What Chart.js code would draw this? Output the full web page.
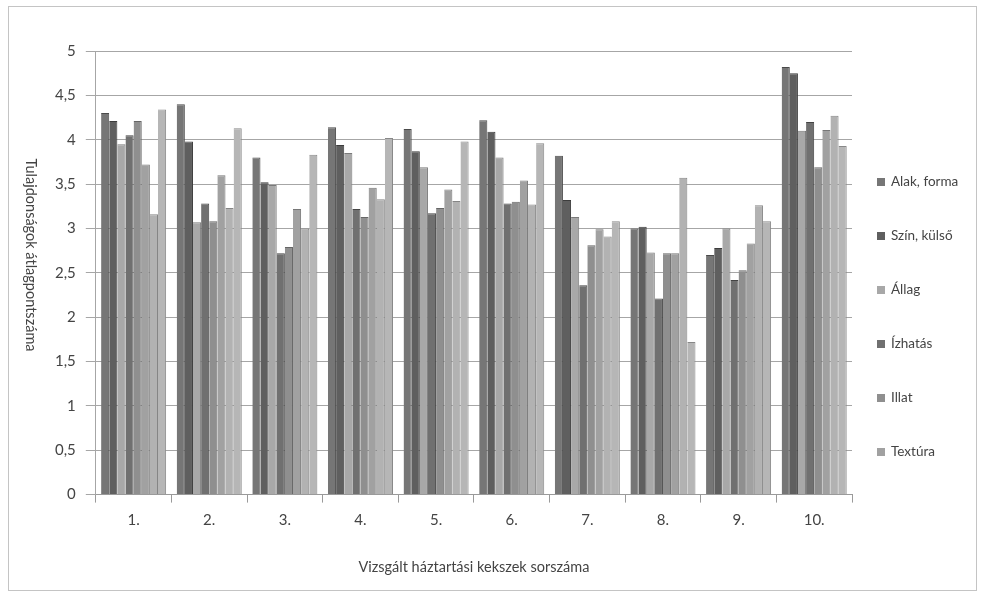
<!DOCTYPE html>
<html lang="hu">
<head>
<meta charset="UTF-8">
<title>Háztartási kekszek</title>
<script src="https://cdn.jsdelivr.net/npm/chart.js"></script>
<style>
  html, body { margin: 0; padding: 0; background: #fff; }
  #wrap { width: 984px; height: 598px; }
</style>
</head>
<body>
<div id="wrap"><canvas id="chart" width="984" height="598"></canvas></div>
<script>
// kategóriák (kekszek sorszáma)
const categories = ['1.', '2.', '3.', '4.', '5.', '6.', '7.', '8.', '9.', '10.'];
const seriesNames = ['Alak, forma', 'Szín, külső', 'Állag', 'Ízhatás', 'Illat', 'Textúra', 'Sorozat 7', 'Sorozat 8'];

// átlagpontszámok sorozatonként
const alakForma = [4.30, 4.40, 3.80, 4.14, 4.12, 4.22, 3.82, 3.00, 2.70, 4.82];
const szinKulso = [4.21, 3.98, 3.52, 3.94, 3.87, 4.09, 3.32, 3.02, 2.78, 4.75];
const allag     = [3.95, 3.07, 3.49, 3.85, 3.69, 3.80, 3.13, 2.73, 3.00, 4.10];
const izhatas   = [4.05, 3.28, 2.72, 3.22, 3.17, 3.28, 2.36, 2.21, 2.42, 4.20];
const illat     = [4.21, 3.08, 2.79, 3.13, 3.23, 3.30, 2.81, 2.72, 2.53, 3.69];
const textura   = [3.72, 3.60, 3.22, 3.46, 3.44, 3.54, 2.99, 2.72, 2.83, 4.11];
const sorozat7  = [3.16, 3.23, 3.00, 3.33, 3.31, 3.27, 2.91, 3.57, 3.26, 4.27];
const sorozat8  = [4.34, 4.13, 3.83, 4.02, 3.98, 3.96, 3.08, 1.72, 3.08, 3.93];

const yTicks = [0, 0.5, 1, 1.5, 2, 2.5, 3, 3.5, 4, 4.5, 5];

const seriesValues = [alakForma, szinKulso, allag, izhatas, illat, textura, sorozat7, sorozat8];
const fills = ['#767676', '#5f5f5f', '#a8a8a8', '#707070', '#8f8f8f', '#a1a1a1', '#b2b2b2', '#b6b6b6'];
const edges = ['#4a4a4a', '#3c3c3c', '#7a7a7a', '#444444', '#666666', '#777777', '#858585', '#888888'];
const legendCount = 6;

const FONT = 'Lato, "Open Sans", sans-serif';

const datasets = seriesValues.map((vals, i) => ({
  label: seriesNames[i],
  data: vals,
  backgroundColor: fills[i],
  borderColor: edges[i],
  borderWidth: { top: 1, right: 1, left: 0, bottom: 0 },
  borderSkipped: false,
  categoryPercentage: 0.86,
  barPercentage: 1.0
}));

// keret, függőleges tengelycím és jelmagyarázat
const extras = {
  id: 'extras',
  beforeDraw(chart) {
    const c = chart.ctx;
    c.save();
    c.fillStyle = '#fff';
    c.fillRect(0, 0, chart.width, chart.height);
    c.strokeStyle = '#c4c4c4';
    c.lineWidth = 1;
    c.strokeRect(8.5, 6.5, 968, 584);
    c.restore();
  },
  afterDraw(chart) {
    const c = chart.ctx;
    c.save();
    // y tengely címe, felülről lefelé olvasva
    c.translate(31, 255);
    c.rotate(Math.PI / 2);
    c.font = '14.5px ' + FONT;
    c.fillStyle = '#444';
    c.textAlign = 'center';
    c.textBaseline = 'middle';
    c.fillText('Tulajdonságok átlagpontszáma', 0, 0);
    c.restore();

    c.save();
    c.font = '13.5px ' + FONT;
    c.textBaseline = 'middle';
    c.textAlign = 'left';
    for (let i = 0; i < legendCount; i++) {
      const ds = chart.data.datasets[i];
      const y = 182 + i * 54;
      c.fillStyle = ds.backgroundColor;
      c.fillRect(877, y - 4, 8, 8);
      c.fillStyle = '#444';
      c.fillText(ds.label, 891, y);
    }
    c.restore();
  }
};

new Chart(document.getElementById('chart'), {
  type: 'bar',
  data: { labels: categories, datasets: datasets },
  options: {
    responsive: false,
    animation: false,
    layout: { padding: { left: 45, right: 132, top: 51, bottom: 22 } },
    plugins: {
      legend: { display: false },
      tooltip: { enabled: false }
    },
    scales: {
      x: {
        grid: {
          offset: true,
          drawOnChartArea: false,
          drawTicks: true,
          tickLength: 8,
          color: '#9a9a9a'
        },
        border: { color: '#9a9a9a' },
        ticks: { color: '#444', font: { family: FONT, size: 15 }, padding: 9 },
        title: {
          display: true,
          text: 'Vizsgált háztartási kekszek sorszáma',
          color: '#444',
          font: { family: FONT, size: 14.5 },
          padding: { top: 20, bottom: 0 }
        }
      },
      y: {
        min: 0,
        max: 5,
        afterBuildTicks: (scale) => { scale.ticks = yTicks.map(v => ({ value: v })); },
        grid: { color: '#a6a6a6', tickLength: 10 },
        border: { color: '#a6a6a6' },
        ticks: {
          color: '#444',
          padding: 10,
          font: { family: FONT, size: 15 },
          callback: (v) => String(v).replace('.', ',')
        }
      }
    }
  },
  plugins: [extras]
});
</script>
</body>
</html>
